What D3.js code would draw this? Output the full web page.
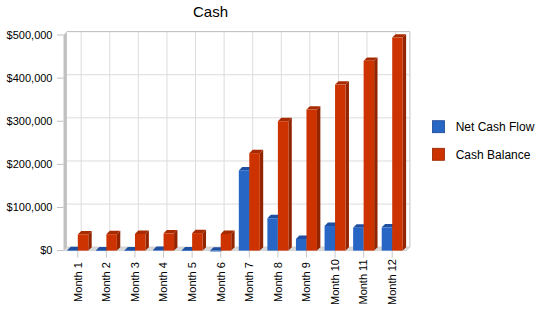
<!DOCTYPE html>
<html>
<head>
<meta charset="utf-8">
<script src="https://cdn.jsdelivr.net/npm/d3@7"></script>
<style>
  body { margin: 0; background: #fff; }
  svg { display: block; font-family: "Liberation Sans", Arial, sans-serif; }
</style>
</head>
<body>
<svg id="chart" width="550" height="318"></svg>
<script>
/* Cash - 3D style grouped bars */
const months = ["Month 1", "Month 2", "Month 3", "Month 4", "Month 5", "Month 6",
  "Month 7", "Month 8", "Month 9", "Month 10", "Month 11", "Month 12"];
const seriesNames = ["Net Cash Flow", "Cash Balance"];
const netCashFlow = [1000, 500, 500, 1500, 500, -2000, 186000, 75000, 27000, 57000, 53000, 54000];
const cashBalance = [37500, 38000, 38500, 40000, 40500, 38500, 226000, 300000, 327000, 385000, 440000, 494000];
const yTicks = [0, 100000, 200000, 300000, 400000, 500000];

const svg = d3.select("#chart");
const d = 3.4; // depth offset of the fake 3D
const x0 = 63.5, x1 = 406.5, yBase = 250.6, yTop = 35;

const colors = {
  "Net Cash Flow": { front: "#2866c6", top: "#1e4fa0", side: "#1a4590" },
  "Cash Balance": { front: "#cc3300", top: "#a82a00", side: "#922400" }
};

const x = d3.scaleBand().domain(months).range([x0, x1]);
const xs = d3.scaleBand().domain(seriesNames).range([3.8, 24.8]);
const y = d3.scaleLinear().domain([0, 500000]).range([yBase, yTop]);

// back wall
const back = svg.append("g");
back.append("rect")
  .attr("x", x0 + d).attr("y", yTop - d)
  .attr("width", x1 - x0).attr("height", yBase - yTop)
  .attr("fill", "#fff");

// horizontal gridlines
back.selectAll("line.hg").data(yTicks).join("line")
  .attr("x1", x0 + d).attr("x2", x1 + d)
  .attr("y1", v => y(v) - d).attr("y2", v => y(v) - d)
  .attr("stroke", "#dcdcdc");

// vertical gridlines
back.selectAll("line.vg").data(months).join("line")
  .attr("x1", m => x(m) + x.bandwidth() / 2 + d)
  .attr("x2", m => x(m) + x.bandwidth() / 2 + d)
  .attr("y1", yTop - d).attr("y2", yBase - d)
  .attr("stroke", "#dcdcdc");

// top + right border of the back wall
back.append("path")
  .attr("d", `M${x0 + d},${yTop - d}H${x1 + d}V${yBase - d}`)
  .attr("fill", "none").attr("stroke", "#c0c0c0");

// left wall
svg.append("path")
  .attr("d", `M${x0},${yTop}L${x0 + d},${yTop - d}L${x0 + d},${yBase - d}L${x0},${yBase}Z`)
  .attr("fill", "#c0c0c0");

// floor
svg.append("path")
  .attr("d", `M${x0},${yBase}L${x0 + d},${yBase - d}L${x1 + d},${yBase - d}L${x1},${yBase}Z`)
  .attr("fill", "#d8d8d8").attr("stroke", "#c8c8c8").attr("stroke-width", 0.6);

// y ticks + labels
const yAxis = svg.append("g");
yAxis.selectAll("line").data(yTicks).join("line")
  .attr("x1", 57).attr("x2", x0)
  .attr("y1", v => y(v)).attr("y2", v => y(v))
  .attr("stroke", "#c0c0c0");
yAxis.selectAll("text").data(yTicks).join("text")
  .attr("x", 52.5).attr("y", v => y(v))
  .attr("dy", "0.35em")
  .attr("text-anchor", "end")
  .style("font-size", "11px")
  .attr("fill", "#000")
  .text(v => "$" + d3.format(",")(v));

// x ticks + labels
const xAxis = svg.append("g");
xAxis.selectAll("line").data(months).join("line")
  .attr("x1", m => x(m) + x.bandwidth() / 2)
  .attr("x2", m => x(m) + x.bandwidth() / 2)
  .attr("y1", yBase + 0.5).attr("y2", yBase + 7)
  .attr("stroke", "#c8c8c8");
xAxis.selectAll("text").data(months).join("text")
  .attr("transform", m => `translate(${x(m) + x.bandwidth() / 2},282) rotate(-90)`)
  .attr("text-anchor", "middle")
  .attr("dy", "0.35em")
  .style("font-size", "11px")
  .attr("fill", "#000")
  .text(m => m);

// bars
const bars = [];
months.forEach((m, i) => {
  bars.push({ month: m, series: "Net Cash Flow", value: netCashFlow[i] });
  bars.push({ month: m, series: "Cash Balance", value: cashBalance[i] });
});

const w = xs.bandwidth();
const barG = svg.append("g");
bars.forEach(b => {
  const bx = x(b.month) + xs(b.series);
  const yv = y(b.value), y0 = y(0);
  const yt = Math.min(yv, y0), yb = Math.max(yv, y0);
  const c = colors[b.series];
  const g = barG.append("g");
  // side face
  g.append("path")
    .attr("d", `M${bx + w},${yt}L${bx + w + d},${yt - d}L${bx + w + d},${yb - d}L${bx + w},${yb}Z`)
    .attr("fill", c.side);
  // top face
  g.append("path")
    .attr("d", `M${bx},${yt}L${bx + d},${yt - d}L${bx + w + d},${yt - d}L${bx + w},${yt}Z`)
    .attr("fill", c.top);
  // front face
  g.append("rect")
    .attr("x", bx).attr("y", yt)
    .attr("width", w).attr("height", Math.max(yb - yt, 0.6))
    .attr("fill", c.front);
});

// title
svg.append("text")
  .attr("x", 210.5).attr("y", 16.7)
  .attr("text-anchor", "middle")
  .style("font-size", "15px")
  .attr("fill", "#000")
  .text("Cash");

// legend
const legend = svg.append("g");
seriesNames.forEach((s, i) => {
  const ly = 120.7 + i * 27.6;
  legend.append("rect")
    .attr("x", 432.5).attr("y", ly)
    .attr("width", 12).attr("height", 12)
    .attr("fill", colors[s].front)
    .attr("stroke", colors[s].side).attr("stroke-width", 0.8);
  legend.append("text")
    .attr("x", 455.7).attr("y", ly + 6)
    .attr("dy", "0.35em")
    .style("font-size", "12px")
    .attr("fill", "#000")
    .text(s);
});
</script>
</body>
</html>
